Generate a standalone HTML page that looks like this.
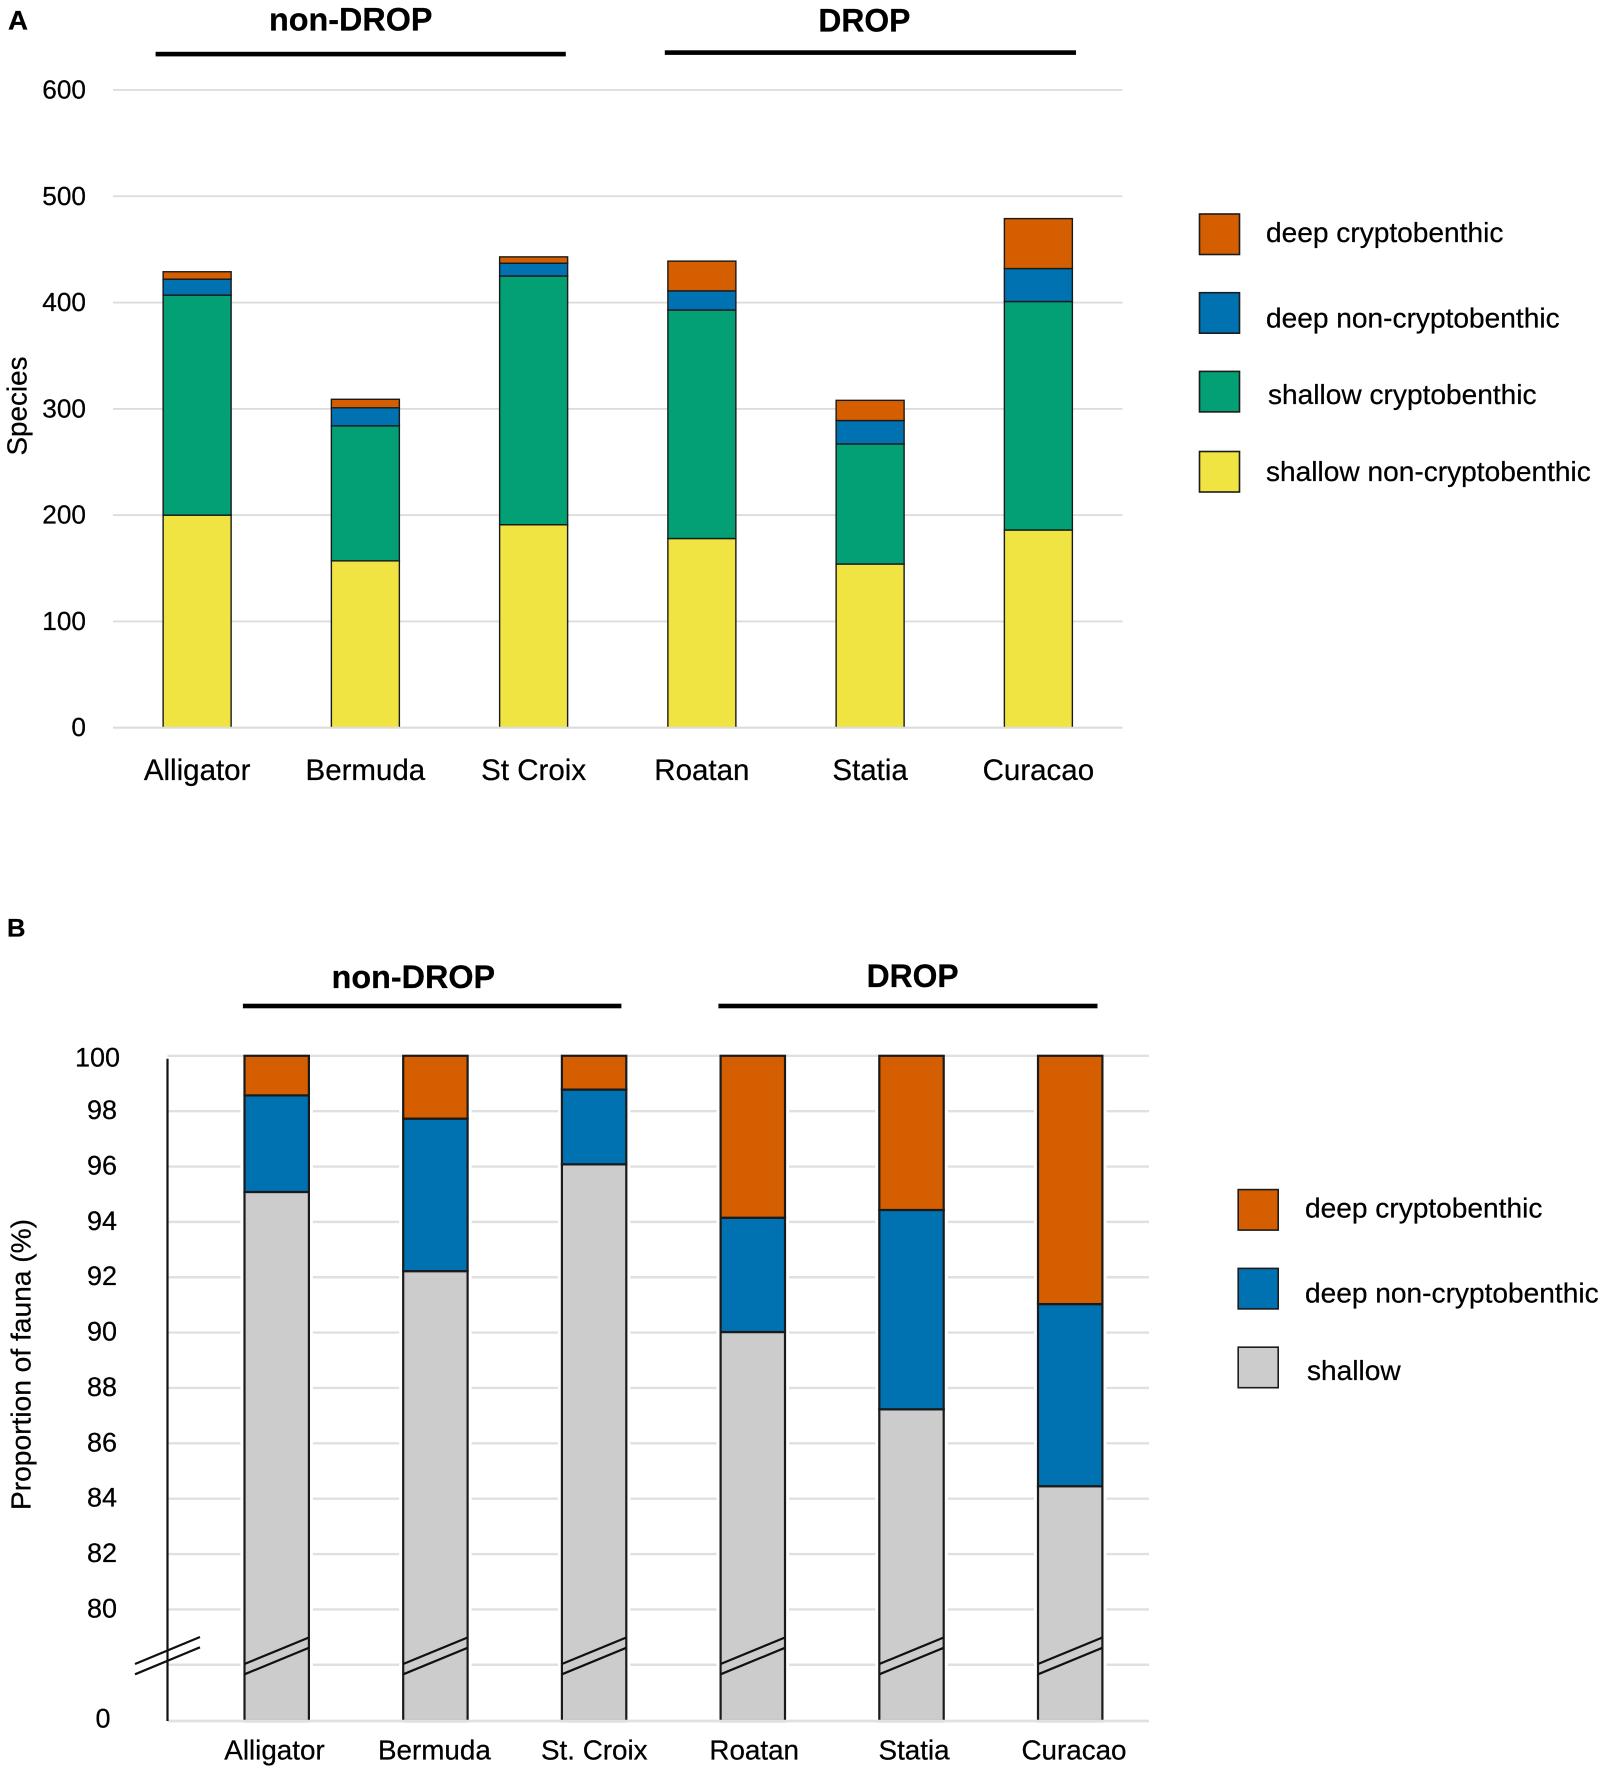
<!DOCTYPE html>
<html lang="en">
<head>
<meta charset="utf-8">
<title>Species and proportion of fauna by site</title>
<style>
html,body{margin:0;padding:0;background:#fff;width:1603px;height:1772px;overflow:hidden}
svg{display:block}
text{font-family:"Liberation Sans",Arial,sans-serif;fill:#000;stroke:#000;stroke-width:.25}
.bold{font-weight:bold}
.legend{font-size:28.1px}
.swatch{stroke:#1c1c1c;stroke-width:1.6}
</style>
</head>
<body>
<svg id="figure" xmlns="http://www.w3.org/2000/svg" width="1603" height="1772" viewBox="0 0 1603 1772">
  <rect width="1603" height="1772" fill="#fff"/>

  <g id="panel-a">
    <text class="bold" x="8" y="29.5" font-size="27" textLength="20" lengthAdjust="spacingAndGlyphs">A</text>
    <text class="bold" x="269" y="30.5" font-size="32.4" textLength="163.5" lengthAdjust="spacingAndGlyphs">non-DROP</text>
    <rect x="155.6" y="51.8" width="410.2" height="4.6" fill="#000"/>
    <text class="bold" x="818.4" y="31.5" font-size="32" textLength="92" lengthAdjust="spacingAndGlyphs">DROP</text>
    <rect x="664.8" y="50.3" width="411.2" height="4.6" fill="#000"/>
    <text transform="translate(26.7,455.5) rotate(-90)" font-size="27.5" textLength="99" lengthAdjust="spacingAndGlyphs">Species</text>
    <g id="plot-a"></g>
    <g>
      <rect class="swatch" x="1199.5" y="214" width="40" height="40.5" fill="#D55E00"/>
      <text class="legend" x="1266" y="242">deep cryptobenthic</text>
      <rect class="swatch" x="1199.5" y="292.7" width="40" height="40.5" fill="#0072B2"/>
      <text class="legend" x="1266" y="327.5">deep non-cryptobenthic</text>
      <rect class="swatch" x="1199.5" y="371.4" width="40" height="40.5" fill="#03A075"/>
      <text class="legend" x="1268" y="404">shallow cryptobenthic</text>
      <rect class="swatch" x="1199.5" y="451.5" width="40" height="40.5" fill="#F0E442"/>
      <text class="legend" x="1266" y="481">shallow non-cryptobenthic</text>
    </g>
  </g>

  <g id="panel-b">
    <text class="bold" x="7" y="936.7" font-size="25" textLength="18.5" lengthAdjust="spacingAndGlyphs">B</text>
    <text class="bold" x="331.6" y="988" font-size="32.4" textLength="163.5" lengthAdjust="spacingAndGlyphs">non-DROP</text>
    <rect x="242.9" y="1003.7" width="378.5" height="4.6" fill="#000"/>
    <text class="bold" x="866.6" y="987" font-size="32" textLength="92" lengthAdjust="spacingAndGlyphs">DROP</text>
    <rect x="718.4" y="1003.7" width="379.1" height="4.6" fill="#000"/>
    <text transform="translate(30.6,1510) rotate(-90)" font-size="27.8" textLength="291" lengthAdjust="spacingAndGlyphs">Proportion of fauna (%)</text>
    <g id="plot-b"></g>
    <g>
      <rect class="swatch" x="1238.2" y="1189.6" width="40" height="40.5" fill="#D55E00"/>
      <text class="legend" x="1305" y="1217.5">deep cryptobenthic</text>
      <rect class="swatch" x="1238.2" y="1268.4" width="40" height="40.5" fill="#0072B2"/>
      <text class="legend" x="1305" y="1302.5">deep non-cryptobenthic</text>
      <rect class="swatch" x="1238.2" y="1347.2" width="40" height="40.5" fill="#CCCCCC"/>
      <text class="legend" x="1307" y="1380">shallow</text>
    </g>
  </g>
</svg>

<script>
// Panel A data (species counts, bottom to top of each stack)
const categoriesA = ['Alligator', 'Bermuda', 'St Croix', 'Roatan', 'Statia', 'Curacao'];
const shallowNonCrypto = [200, 157, 191, 178, 154, 186];
const shallowCrypto = [207, 127, 234, 215, 113, 215];
const deepNonCryptoA = [15, 17, 12, 18, 22, 31];
const deepCryptoA = [7, 8, 6, 28, 19, 47];
const ticksA = [0, 100, 200, 300, 400, 500, 600];

// Panel B data (percent of fauna, bottom to top of each stack)
const categoriesB = ['Alligator', 'Bermuda', 'St. Croix', 'Roatan', 'Statia', 'Curacao'];
const shallowB = [95.08, 92.22, 96.08, 90.02, 87.23, 84.45];
const deepNonCryptoB = [3.49, 5.51, 2.70, 4.13, 7.20, 6.58];
const deepCryptoB = [1.43, 2.27, 1.22, 5.85, 5.57, 8.97];
const ticksB = [100, 98, 96, 94, 92, 90, 88, 86, 84, 82, 80, 78, 0];
const tickLabelsB = ['100', '98', '96', '94', '92', '90', '88', '86', '84', '82', '80', '', '0'];

const NS = 'http://www.w3.org/2000/svg';
function mk(tag, attrs, parent) {
  const el = document.createElementNS(NS, tag);
  for (const k in attrs) el.setAttribute(k, attrs[k]);
  parent.appendChild(el);
  return el;
}
function slug(s) { return s.toLowerCase().replace(/[^a-z0-9]+/g, '-'); }

// ---------- Panel A ----------
const plotA = document.getElementById('plot-a');
const gridLeftA = 113, gridRightA = 1122.5;
const bandA = (gridRightA - gridLeftA) / categoriesA.length;
const barWidthA = 68;
const xA = i => gridLeftA + bandA * (i + 0.5);
const yA = v => 727.7 - v * (727.7 - 90) / 600;

ticksA.forEach(t => {
  const line = mk('line', { x1: gridLeftA, x2: gridRightA, y1: yA(t), y2: yA(t), stroke: '#dcdcdc', 'stroke-width': 1.8 }, plotA);
  
  
  const label = mk('text', { x: 86, y: yA(t) + 8.5, 'text-anchor': 'end', 'font-size': 26.2 }, plotA);
  label.textContent = String(t);
  
  
});

const seriesA = [
  { key: 'shallow-non-cryptobenthic', values: shallowNonCrypto, color: '#F0E442' },
  { key: 'shallow-cryptobenthic', values: shallowCrypto, color: '#03A075' },
  { key: 'deep-non-cryptobenthic', values: deepNonCryptoA, color: '#0072B2' },
  { key: 'deep-cryptobenthic', values: deepCryptoA, color: '#D55E00' }
];
categoriesA.forEach((cat, i) => {
  let base = 0;
  seriesA.forEach(s => {
    const top = base + s.values[i];
    const bar = mk('rect', { x: xA(i) - barWidthA / 2, y: yA(top), width: barWidthA, height: yA(base) - yA(top), fill: s.color, stroke: '#1a1a1a', 'stroke-width': 1.4 }, plotA);
    
    
    base = top;
  });
  const label = mk('text', { x: xA(i), y: 780, 'text-anchor': 'middle', 'font-size': 29.5 }, plotA);
  label.textContent = cat;
  
  
});
const baselineA = mk('line', { x1: gridLeftA, x2: gridRightA, y1: yA(0), y2: yA(0), stroke: '#dcdcdc', 'stroke-width': 1.8 }, plotA);



// ---------- Panel B ----------
const plotB = document.getElementById('plot-b');
const gridLeftB = 167.5, gridRightB = 1149;
const firstCenterB = 276.7, stepB = 158.7, barWidthB = 64.4;
const xB = i => firstCenterB + stepB * i;
const labelXB = i => 274.5 + 159.9 * i;
// Broken axis: linear from 78 to 100, compressed from 0 to 78.
const yB = v => v >= 78 ? 1055.8 + (100 - v) * 27.68 : 1721 - v / 78 * (1721 - 1664.7);

ticksB.forEach((t, i) => {
  const line = mk('line', { x1: gridLeftB, x2: gridRightB, y1: yB(t), y2: yB(t), stroke: '#e0e0e0', 'stroke-width': 2.4 }, plotB);
  
  
  const text = tickLabelsB[i];
  if (text) {
    const anchorX = text.length === 3 ? 120 : (text.length === 1 ? 110.5 : 117);
    const drop = t === 0 ? 6.5 : (t === 100 ? 10.5 : 8);
    const label = mk('text', { x: anchorX, y: yB(t) + drop, 'text-anchor': 'end', 'font-size': 27 }, plotB);
    label.textContent = text;
    
    
  }
});

const seriesB = [
  { key: 'shallow', values: shallowB, color: '#CCCCCC' },
  { key: 'deep-non-cryptobenthic', values: deepNonCryptoB, color: '#0072B2' },
  { key: 'deep-cryptobenthic', values: deepCryptoB, color: '#D55E00' }
];
categoriesB.forEach((cat, i) => {
  const total = seriesB.reduce((acc, s) => acc + s.values[i], 0);
  const halo = mk('rect', { x: xB(i) - barWidthB / 2 - 4, y: yB(total) + 2, width: barWidthB + 8, height: yB(0) - yB(total) - 2, fill: '#fff' }, plotB);
  
  
  let base = 0;
  seriesB.forEach(s => {
    const top = base + s.values[i];
    const bar = mk('rect', { x: xB(i) - barWidthB / 2, y: yB(top), width: barWidthB, height: yB(base) - yB(top), fill: s.color, stroke: '#1a1a1a', 'stroke-width': 2.2 }, plotB);
    
    
    base = top;
  });
  [1664, 1674.3].forEach((breakY, k) => {
    const mark = mk('line', { x1: xB(i) - barWidthB / 2, x2: xB(i) + barWidthB / 2, y1: breakY, y2: breakY - 26.5, stroke: '#111', 'stroke-width': 2.2 }, plotB);
    
    
  });
  const label = mk('text', { x: labelXB(i), y: 1759.3, 'text-anchor': 'middle', 'font-size': 27.8 }, plotB);
  label.textContent = cat;
  
  
});

const baselineB = mk('line', { x1: gridLeftB, x2: gridRightB, y1: yB(0), y2: yB(0), stroke: '#e0e0e0', 'stroke-width': 2.4 }, plotB);



const axisB = mk('line', { x1: gridLeftB, x2: gridLeftB, y1: 1058.7, y2: 1721, stroke: '#111', 'stroke-width': 2.2 }, plotB);



[1664, 1674.3].forEach((breakY, k) => {
  const mark = mk('line', { x1: 135, x2: 200, y1: breakY, y2: breakY - 27, stroke: '#111', 'stroke-width': 2.2 }, plotB);
  
  
});
</script>
</body>
</html>
